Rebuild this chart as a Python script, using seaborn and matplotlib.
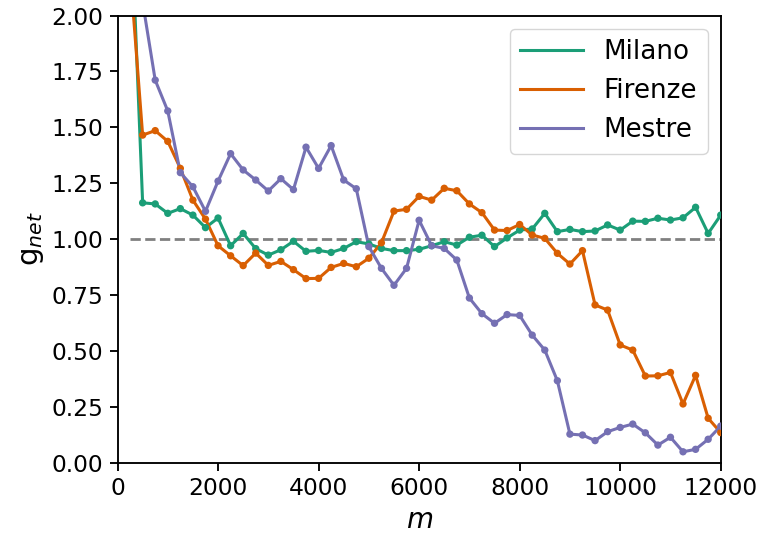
import numpy as np
import pandas as pd
import matplotlib
matplotlib.use("Agg")
import matplotlib.pyplot as plt
import seaborn as sns

# step size m (every 250 up to 12000)
m = list(range(250, 12001, 250))

milano = [2.55, 1.162, 1.157, 1.115, 1.136, 1.107, 1.051, 1.094, 0.970, 1.025,
          0.957, 0.928, 0.952, 0.990, 0.945, 0.949, 0.940, 0.958, 0.988, 0.978,
          0.958, 0.948, 0.948, 0.954, 0.970, 0.988, 0.973, 1.008, 1.017, 0.966,
          1.005, 1.040, 1.045, 1.115, 1.033, 1.043, 1.033, 1.036, 1.063, 1.040,
          1.080, 1.079, 1.093, 1.085, 1.095, 1.142, 1.025, 1.107]

firenze = [2.20, 1.465, 1.485, 1.437, 1.316, 1.174, 1.089, 0.970, 0.925, 0.881,
           0.937, 0.882, 0.900, 0.863, 0.823, 0.824, 0.873, 0.891, 0.876, 0.914,
           0.983, 1.125, 1.133, 1.191, 1.174, 1.227, 1.216, 1.157, 1.118, 1.040,
           1.038, 1.065, 1.018, 1.003, 0.936, 0.888, 0.948, 0.705, 0.682, 0.526,
           0.503, 0.387, 0.388, 0.403, 0.262, 0.390, 0.198, 0.134]

mestre = [2.60, 2.06, 1.711, 1.573, 1.297, 1.234, 1.124, 1.259, 1.382, 1.309,
          1.264, 1.215, 1.270, 1.221, 1.411, 1.316, 1.418, 1.264, 1.225, 0.966,
          0.869, 0.793, 0.869, 1.084, 0.970, 0.958, 0.906, 0.736, 0.666, 0.623,
          0.662, 0.658, 0.570, 0.503, 0.366, 0.127, 0.123, 0.098, 0.138, 0.157,
          0.172, 0.133, 0.078, 0.113, 0.048, 0.059, 0.104, 0.163]

cities = ["Milano", "Firenze", "Mestre"]
dark2 = sns.color_palette("Dark2", 3)
palette = dict(zip(cities, dark2))

df = pd.concat([
    pd.DataFrame({"m": m, "g": vals, "city": name})
    for name, vals in zip(cities, [milano, firenze, mestre])
], ignore_index=True)

plt.rcParams["axes.linewidth"] = 1.35
plt.rcParams["mathtext.fontset"] = "dejavusans"

fig = plt.figure(figsize=(7.66, 5.39), dpi=100)
ax = fig.add_axes([0.1534, 0.1419, 0.9409 - 0.1534, 0.9712 - 0.1419])

# reference level g_net = 1
ax.hlines(1.0, m[0], m[-1], colors="gray", linestyles="--", linewidth=2.0, zorder=1)

sns.lineplot(data=df, x="m", y="g", hue="city", hue_order=cities,
             palette=palette, linewidth=2.2, ax=ax)
sns.scatterplot(data=df, x="m", y="g", hue="city", hue_order=cities,
                palette=palette, s=28, linewidth=0, legend=False, ax=ax,
                zorder=3)

ax.set_xlim(0, 12000)
ax.set_ylim(0, 2)
ax.set_yticks([0, 0.25, 0.5, 0.75, 1.0, 1.25, 1.5, 1.75, 2.0])
ax.set_xticks([0, 2000, 4000, 6000, 8000, 10000, 12000])
ax.tick_params(axis="both", labelsize=16.8, length=5.9, width=1.35, pad=4.5)

ax.set_xlabel("$m$", fontsize=20)
ax.set_ylabel("g$_{net}$", fontsize=21)

leg = ax.legend(loc="upper right", fontsize=18.8, title=None, handlelength=2.4)
for line in leg.get_lines():
    line.set_linewidth(2.2)

fig.savefig("out.png", dpi=100)
